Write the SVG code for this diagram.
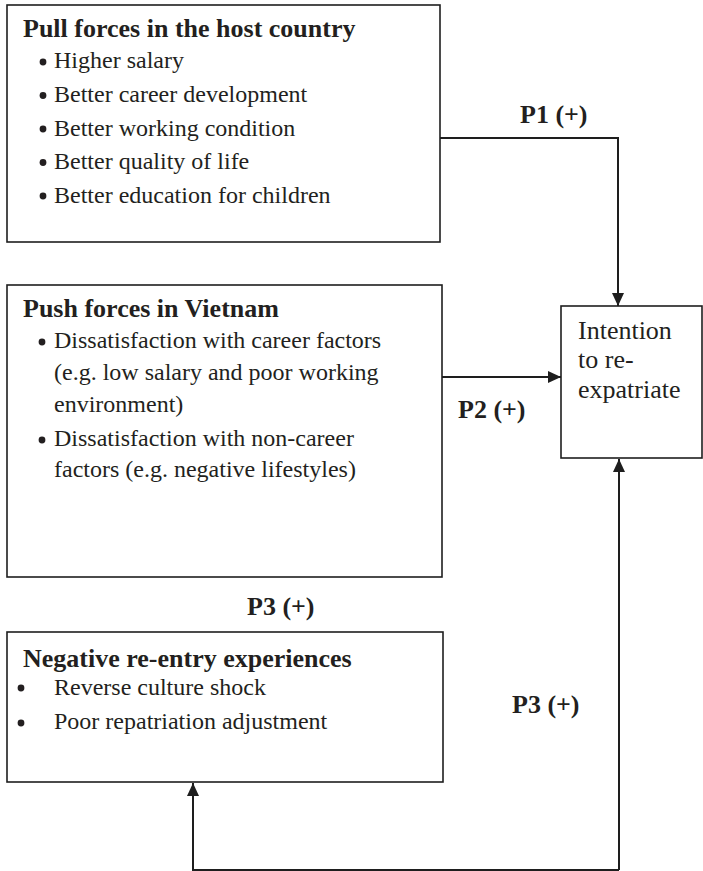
<svg xmlns="http://www.w3.org/2000/svg" width="703" height="871" viewBox="0 0 703 871">
  <style>
    .box { fill: #ffffff; stroke: #1e1e1e; stroke-width: 1.6; }
    .head { font-family: "Liberation Serif", "Times New Roman", serif; font-weight: bold; font-size: 26px; fill: #231f20; }
    .item { font-family: "Liberation Serif", "Times New Roman", serif; font-size: 24px; fill: #231f20; }
    .big { font-family: "Liberation Serif", "Times New Roman", serif; font-size: 26px; fill: #231f20; }
    .dot { fill: #231f20; }
    .link { fill: none; stroke: #1e1e1e; stroke-width: 2; }
  </style>
  <defs>
    <marker id="arrow" viewBox="0 0 13 12" refX="13" refY="6" markerWidth="13" markerHeight="12" markerUnits="userSpaceOnUse" orient="auto">
      <path d="M0,0 L13,6 L0,12 Z" fill="#1e1e1e"/>
    </marker>
  </defs>

  <rect width="703" height="871" fill="#ffffff"/>

  <!-- Pull forces -->
  <g id="pull-forces">
    <rect class="box" x="7" y="5" width="433" height="237"/>
    <text class="head" x="23" y="37">Pull forces in the host country</text>
    <circle class="dot" cx="43" cy="62" r="3.4"/>
    <text class="item" x="54" y="68">Higher salary</text>
    <circle class="dot" cx="43" cy="95.5" r="3.4"/>
    <text class="item" x="54" y="102">Better career development</text>
    <circle class="dot" cx="43" cy="129" r="3.4"/>
    <text class="item" x="54" y="135.5">Better working condition</text>
    <circle class="dot" cx="43" cy="162.5" r="3.4"/>
    <text class="item" x="54" y="169">Better quality of life</text>
    <circle class="dot" cx="43" cy="196" r="3.4"/>
    <text class="item" x="54" y="202.5">Better education for children</text>
  </g>

  <!-- Push forces -->
  <g id="push-forces">
    <rect class="box" x="7" y="285" width="435" height="292"/>
    <text class="head" x="23" y="317">Push forces in Vietnam</text>
    <circle class="dot" cx="42" cy="342" r="3.4"/>
    <text class="item" x="54" y="348">Dissatisfaction with career factors</text>
    <text class="item" x="54" y="380">(e.g. low salary and poor working</text>
    <text class="item" x="54" y="412">environment)</text>
    <circle class="dot" cx="42" cy="440" r="3.4"/>
    <text class="item" x="54" y="446">Dissatisfaction with non-career</text>
    <text class="item" x="54" y="477">factors (e.g. negative lifestyles)</text>
  </g>

  <!-- Negative re-entry experiences -->
  <g id="reentry">
    <rect class="box" x="7" y="632" width="436" height="150"/>
    <text class="head" x="23" y="667">Negative re-entry experiences</text>
    <circle class="dot" cx="21" cy="688" r="3.4"/>
    <text class="item" x="54" y="695">Reverse culture shock</text>
    <circle class="dot" cx="21" cy="723" r="3.4"/>
    <text class="item" x="54" y="729">Poor repatriation adjustment</text>
  </g>

  <!-- Intention to re-expatriate -->
  <g id="intention">
    <rect class="box" x="561" y="306" width="141" height="152"/>
    <text class="big" x="578" y="339">Intention</text>
    <text class="big" x="578" y="368">to re-</text>
    <text class="big" x="578" y="398">expatriate</text>
  </g>

  <!-- Connectors -->
  <g id="connectors">
    <path class="link" d="M440,138 H618 V306" marker-end="url(#arrow)"/>
    <path class="link" d="M442,377 H561" marker-end="url(#arrow)"/>
    <path class="link" d="M619,870 V459" marker-end="url(#arrow)"/>
    <path class="link" d="M619,870 H193 V783" marker-end="url(#arrow)"/>
    <text class="head" x="520" y="123">P1 (+)</text>
    <text class="head" x="458" y="418">P2 (+)</text>
    <text class="head" x="247" y="615">P3 (+)</text>
    <text class="head" x="512" y="713">P3 (+)</text>
  </g>
</svg>
